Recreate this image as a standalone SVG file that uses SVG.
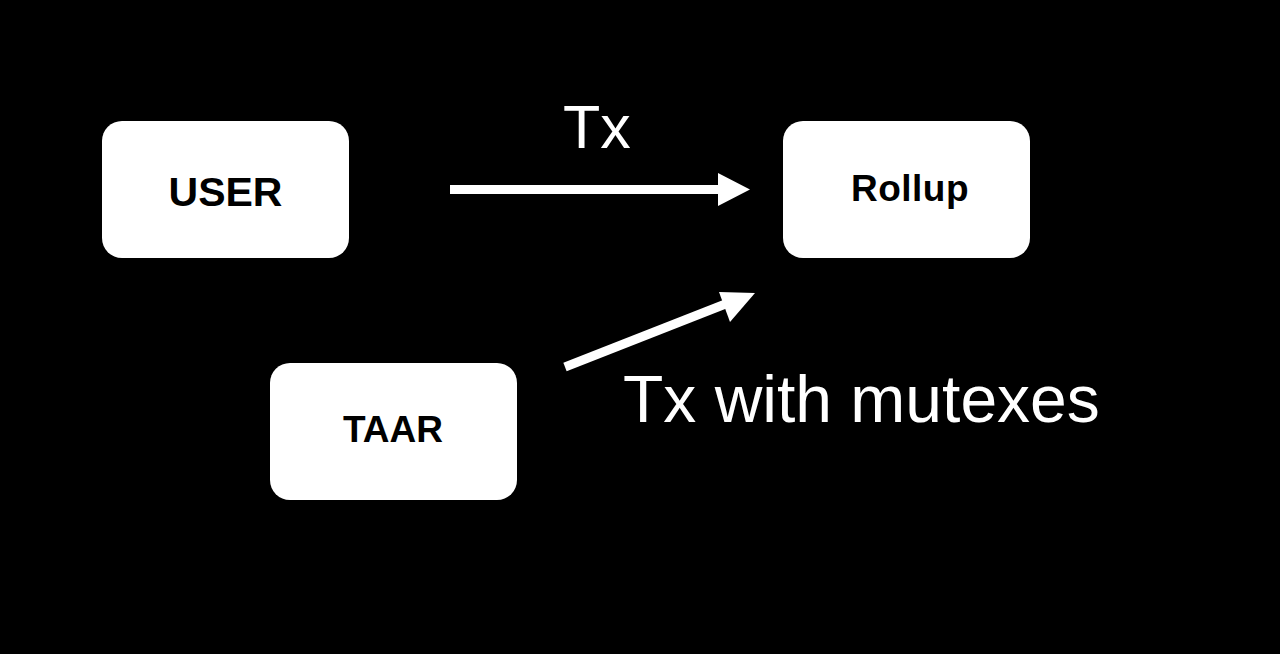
<svg xmlns="http://www.w3.org/2000/svg" width="1280" height="654" viewBox="0 0 1280 654">
<style>
.box{fill:#fff;}
.nl{font-family:"Liberation Sans",Arial,sans-serif;font-weight:bold;fill:#000;text-anchor:middle;}
.el{font-family:"Liberation Sans",Arial,sans-serif;fill:#fff;}
.ln{stroke:#fff;stroke-width:9;fill:none;}
.hd{fill:#fff;}
</style>
<rect width="1280" height="654" fill="#000"/>
<g id="user">
<rect class="box" x="102" y="121" width="247" height="137" rx="20"/>
<text class="nl" x="225.5" y="206" font-size="41">USER</text>
</g>
<g id="rollup">
<rect class="box" x="783" y="121" width="247" height="137" rx="20"/>
<text class="nl" x="910" y="201" font-size="37" letter-spacing="0.5">Rollup</text>
</g>
<g id="taar">
<rect class="box" x="270" y="363" width="247" height="137" rx="20"/>
<text class="nl" x="393" y="442" font-size="37">TAAR</text>
</g>
<g id="connectors">
<line class="ln" x1="450" y1="189.5" x2="720" y2="189.5"/>
<polygon class="hd" points="718,173 750,189.5 718,206"/>
<line class="ln" x1="565" y1="367" x2="728" y2="303"/>
<polygon class="hd" points="719,292 755,293 730,322"/>
<text class="el" x="563" y="148" font-size="61">Tx</text>
<text class="el" x="623" y="422" font-size="66">Tx with mutexes</text>
</g>
</svg>
